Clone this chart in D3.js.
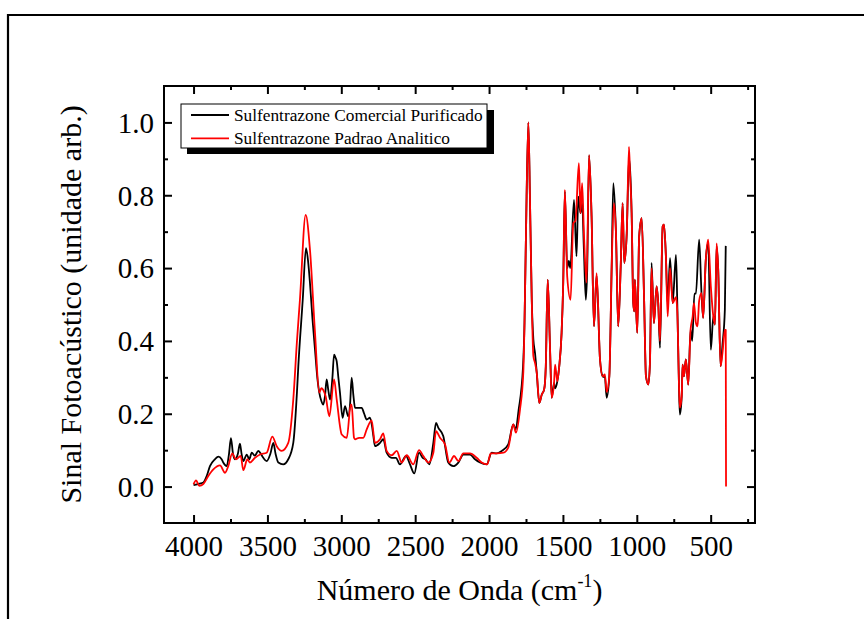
<!DOCTYPE html>
<html>
<head>
<meta charset="utf-8">
<script src="https://cdn.jsdelivr.net/npm/d3@7"></script>
<style>
  html, body { margin: 0; padding: 0; background: #fff; }
  svg { display: block; }
  text { font-family: "Liberation Serif", "Times New Roman", serif; fill: #000; }
</style>
</head>
<body>
<svg id="chart" width="864" height="619"></svg>
<script>
// ---------- DATA ----------
const seriesNames = ["Sulfentrazone Comercial Purificado", "Sulfentrazone Padrao Analitico"];
const seriesColors = ["#000000", "#ff0000"];

const comercialWave = [4000,3960,3934,3911,3889,3855,3832,3810,3799,3776,3760,3747,3733,3720,3700,3686,3675,3663,3640,3623,3606,3585,3562,3545,3528,3505,3480,3460,3445,3426,3393,3359,3325,3300,3291,3261,3239,3225,3212,3195,3178,3160,3149,3135,3122,3110,3099,3088,3076,3060,3049,3040,3031,3020,3009,2991,2975,2953,2940,2930,2918,2907,2885,2862,2845,2828,2806,2790,2783,2772,2738,2716,2693,2659,2630,2603,2562,2535,2506,2474,2449,2430,2404,2377,2359,2344,2310,2276,2242,2208,2174,2129,2095,2061,2016,1982,1948,1914,1870,1836,1820,1800,1770,1760,1750,1734,1723,1711,1700,1689,1677,1660,1643,1627,1616,1603,1587,1576,1560,1553,1538,1525,1509,1498,1487,1471,1460,1450,1425,1408,1396,1381,1370,1358,1345,1336,1323,1306,1290,1272,1249,1231,1216,1204,1186,1170,1159,1141,1126,1109,1096,1085,1068,1053,1046,1035,1024,1017,1013,997,984,967,951,938,922,911,900,884,866,855,843,825,816,803,791,775,757,735,726,713,708,696,690,681,668,652,636,625,610,600,578,562,551,533,517,499,482,471,460,449,433,420,404,398];
const comercialSignal = [0.004,0.008,0.011,0.029,0.056,0.075,0.082,0.075,0.066,0.056,0.09,0.133,0.09,0.075,0.09,0.118,0.09,0.070,0.088,0.075,0.093,0.085,0.098,0.09,0.079,0.070,0.09,0.120,0.09,0.066,0.061,0.075,0.120,0.26,0.330,0.513,0.655,0.62,0.559,0.46,0.376,0.29,0.258,0.235,0.225,0.25,0.294,0.265,0.239,0.30,0.362,0.355,0.344,0.30,0.258,0.189,0.221,0.193,0.23,0.299,0.25,0.216,0.216,0.216,0.20,0.184,0.189,0.16,0.139,0.111,0.120,0.130,0.093,0.079,0.079,0.061,0.084,0.061,0.036,0.093,0.079,0.075,0.061,0.120,0.175,0.162,0.139,0.066,0.056,0.066,0.088,0.088,0.075,0.066,0.061,0.093,0.091,0.098,0.116,0.171,0.157,0.21,0.33,0.45,0.696,1.0,0.787,0.513,0.404,0.367,0.312,0.230,0.253,0.267,0.330,0.568,0.376,0.244,0.285,0.27,0.289,0.330,0.422,0.559,0.81,0.60,0.62,0.60,0.787,0.632,0.796,0.751,0.78,0.65,0.513,0.59,0.91,0.741,0.44,0.58,0.349,0.303,0.30,0.244,0.303,0.604,0.833,0.696,0.440,0.604,0.778,0.614,0.696,0.90,0.874,0.751,0.504,0.481,0.568,0.422,0.687,0.737,0.522,0.303,0.280,0.340,0.614,0.449,0.550,0.504,0.381,0.714,0.719,0.632,0.50,0.627,0.504,0.636,0.504,0.248,0.198,0.248,0.335,0.303,0.349,0.280,0.431,0.40,0.53,0.53,0.678,0.53,0.463,0.623,0.67,0.376,0.467,0.445,0.66,0.595,0.330,0.39,0.486,0.661];

const padraoWave = [4000,3983,3961,3934,3900,3866,3821,3787,3765,3738,3713,3681,3663,3636,3619,3584,3550,3505,3467,3437,3404,3359,3325,3300,3280,3241,3212,3178,3149,3135,3122,3106,3081,3049,3031,2997,2963,2936,2930,2914,2907,2880,2851,2828,2795,2772,2738,2716,2693,2659,2625,2591,2557,2513,2474,2445,2411,2377,2359,2332,2298,2269,2237,2208,2174,2129,2084,2050,2012,1989,1948,1903,1870,1836,1818,1791,1768,1760,1750,1734,1723,1711,1700,1689,1677,1660,1643,1627,1616,1603,1587,1576,1560,1553,1538,1525,1509,1498,1487,1471,1448,1430,1415,1392,1381,1370,1358,1340,1323,1306,1290,1272,1249,1231,1216,1204,1186,1170,1155,1141,1126,1109,1096,1085,1068,1053,1046,1035,1024,1017,1013,997,984,967,951,938,922,911,900,884,866,855,843,825,816,803,791,775,757,735,726,713,708,696,690,681,668,652,636,622,613,600,589,578,562,551,533,517,499,482,471,460,449,433,420,404,398,396];
const padraoSignal = [0.006,0.017,0.002,0.007,0.029,0.047,0.058,0.038,0.056,0.091,0.075,0.084,0.045,0.075,0.066,0.079,0.088,0.093,0.137,0.111,0.098,0.120,0.239,0.40,0.513,0.746,0.650,0.422,0.258,0.27,0.265,0.248,0.193,0.294,0.239,0.143,0.134,0.225,0.225,0.134,0.130,0.134,0.134,0.157,0.182,0.120,0.130,0.146,0.098,0.086,0.098,0.066,0.086,0.061,0.100,0.084,0.066,0.093,0.152,0.134,0.116,0.066,0.084,0.070,0.091,0.091,0.079,0.066,0.061,0.091,0.091,0.093,0.107,0.171,0.148,0.21,0.315,0.45,0.696,1.0,0.787,0.513,0.358,0.34,0.312,0.230,0.253,0.267,0.330,0.568,0.376,0.244,0.285,0.335,0.289,0.330,0.422,0.559,0.815,0.577,0.513,0.723,0.73,0.888,0.751,0.833,0.696,0.56,0.91,0.741,0.44,0.586,0.349,0.303,0.308,0.26,0.303,0.604,0.778,0.696,0.440,0.604,0.778,0.614,0.696,0.933,0.86,0.751,0.504,0.481,0.568,0.422,0.687,0.737,0.522,0.303,0.280,0.340,0.60,0.449,0.55,0.504,0.40,0.714,0.72,0.632,0.467,0.60,0.504,0.52,0.48,0.26,0.217,0.248,0.335,0.303,0.349,0.280,0.431,0.467,0.504,0.45,0.44,0.51,0.531,0.463,0.623,0.678,0.55,0.467,0.445,0.668,0.595,0.330,0.367,0.43,0.43,0.0];

const xMajorTicks = [4000, 3500, 3000, 2500, 2000, 1500, 1000, 500];
const xMinorTicks = [3750, 3250, 2750, 2250, 1750, 1250, 750, 250];
const yMajorTicks = [0.0, 0.2, 0.4, 0.6, 0.8, 1.0];
const yMinorTicks = [0.1, 0.3, 0.5, 0.7, 0.9];
const xDomain = [4200, 200];
const yDomain = [-0.1, 1.1];
const xTitle = "Número de Onda (cm";
const xTitleSup = "-1";
const yTitle = "Sinal Fotoacústico (unidade arb.)";

// ---------- LAYOUT ----------
const svg = d3.select("#chart");
const L = 164, R = 755, T = 86, B = 523;
const x = d3.scaleLinear().domain(xDomain).range([L, R]);
const y = d3.scaleLinear().domain(yDomain).range([B, T]);

// outer frame (top + left)
svg.append("path").attr("d", "M8,619 L8,15 L864,15")
  .attr("fill", "none").attr("stroke", "#000").attr("stroke-width", 2.2);

// clip
svg.append("clipPath").attr("id", "clip").append("rect")
  .attr("x", L).attr("y", T).attr("width", R - L).attr("height", B - T);

// series
const series = [
  { w: comercialWave, v: comercialSignal, color: seriesColors[0] },
  { w: padraoWave, v: padraoSignal, color: seriesColors[1] }
];
const line = d3.line().x(d => x(d[0])).y(d => y(d[1])).curve(d3.curveMonotoneX);
const gLines = svg.append("g").attr("clip-path", "url(#clip)");
series.forEach(s => {
  const pts = s.w.map((w, i) => [w, s.v[i]]);
  gLines.append("path").datum(pts).attr("d", line)
    .attr("fill", "none").attr("stroke", s.color).attr("stroke-width", 1.8)
    .attr("stroke-linejoin", "round");
});

// axes (ticks inward on all four sides)
const maj = 8, mnr = 4;
const bottom = d3.axisBottom(x).tickValues(xMajorTicks).tickSize(-maj).tickPadding(12).tickFormat(d3.format("d"));
const gB = svg.append("g").attr("transform", `translate(0,${B})`).call(bottom);
const gBm = svg.append("g").attr("transform", `translate(0,${B})`).call(d3.axisBottom(x).tickValues(xMinorTicks).tickSize(-mnr).tickFormat(""));
const gT = svg.append("g").attr("transform", `translate(0,${T})`).call(d3.axisTop(x).tickValues(xMajorTicks).tickSize(-maj).tickFormat(""));
const gTm = svg.append("g").attr("transform", `translate(0,${T})`).call(d3.axisTop(x).tickValues(xMinorTicks).tickSize(-mnr).tickFormat(""));
const left = d3.axisLeft(y).tickValues(yMajorTicks).tickSize(-maj).tickPadding(10).tickFormat(d3.format(".1f"));
const gL = svg.append("g").attr("transform", `translate(${L},0)`).call(left);
const gLm = svg.append("g").attr("transform", `translate(${L},0)`).call(d3.axisLeft(y).tickValues(yMinorTicks).tickSize(-mnr).tickFormat(""));
const gR = svg.append("g").attr("transform", `translate(${R},0)`).call(d3.axisRight(y).tickValues(yMajorTicks).tickSize(-maj).tickFormat(""));
const gRm = svg.append("g").attr("transform", `translate(${R},0)`).call(d3.axisRight(y).tickValues(yMinorTicks).tickSize(-mnr).tickFormat(""));

[gB, gBm, gT, gTm, gL, gLm, gR, gRm].forEach(g => {
  g.select(".domain").remove();
  g.selectAll(".tick line").attr("stroke", "#000").attr("stroke-width", 2);
  g.selectAll(".tick text").attr("font-family", "Liberation Serif, Times New Roman, serif")
    .attr("font-size", 29).attr("fill", "#000");
});
gB.selectAll(".tick text").attr("dy", "0.71em");
gL.selectAll(".tick text").attr("dy", "0.34em");

// plot frame
svg.append("rect").attr("x", L).attr("y", T).attr("width", R - L).attr("height", B - T)
  .attr("fill", "none").attr("stroke", "#000").attr("stroke-width", 2);

// axis titles
const xt = svg.append("text").attr("x", (L + R) / 2).attr("y", 600)
  .attr("text-anchor", "middle").attr("font-size", 30);
xt.append("tspan").text(xTitle);
xt.append("tspan").text(xTitleSup).attr("font-size", 18).attr("dy", -13);
xt.append("tspan").text(")").attr("dy", 13);

svg.append("text").attr("transform", `translate(81,${(T + B) / 2}) rotate(-90)`)
  .attr("text-anchor", "middle").attr("font-size", 30).text(yTitle);

// legend
const lg = svg.append("g");
lg.append("rect").attr("x", 187).attr("y", 110).attr("width", 307).attr("height", 44).attr("fill", "#000");
lg.append("rect").attr("x", 181).attr("y", 104).attr("width", 306).attr("height", 44)
  .attr("fill", "#fff").attr("stroke", "#000").attr("stroke-width", 1);
seriesNames.forEach((name, i) => {
  const yy = 115 + i * 23.3;
  lg.append("line").attr("x1", 191).attr("x2", 229).attr("y1", yy).attr("y2", yy)
    .attr("stroke", seriesColors[i]).attr("stroke-width", 1.8);
  lg.append("text").attr("x", 234).attr("y", yy + 6).attr("font-size", 17.3).text(name);
});
</script>
</body>
</html>
